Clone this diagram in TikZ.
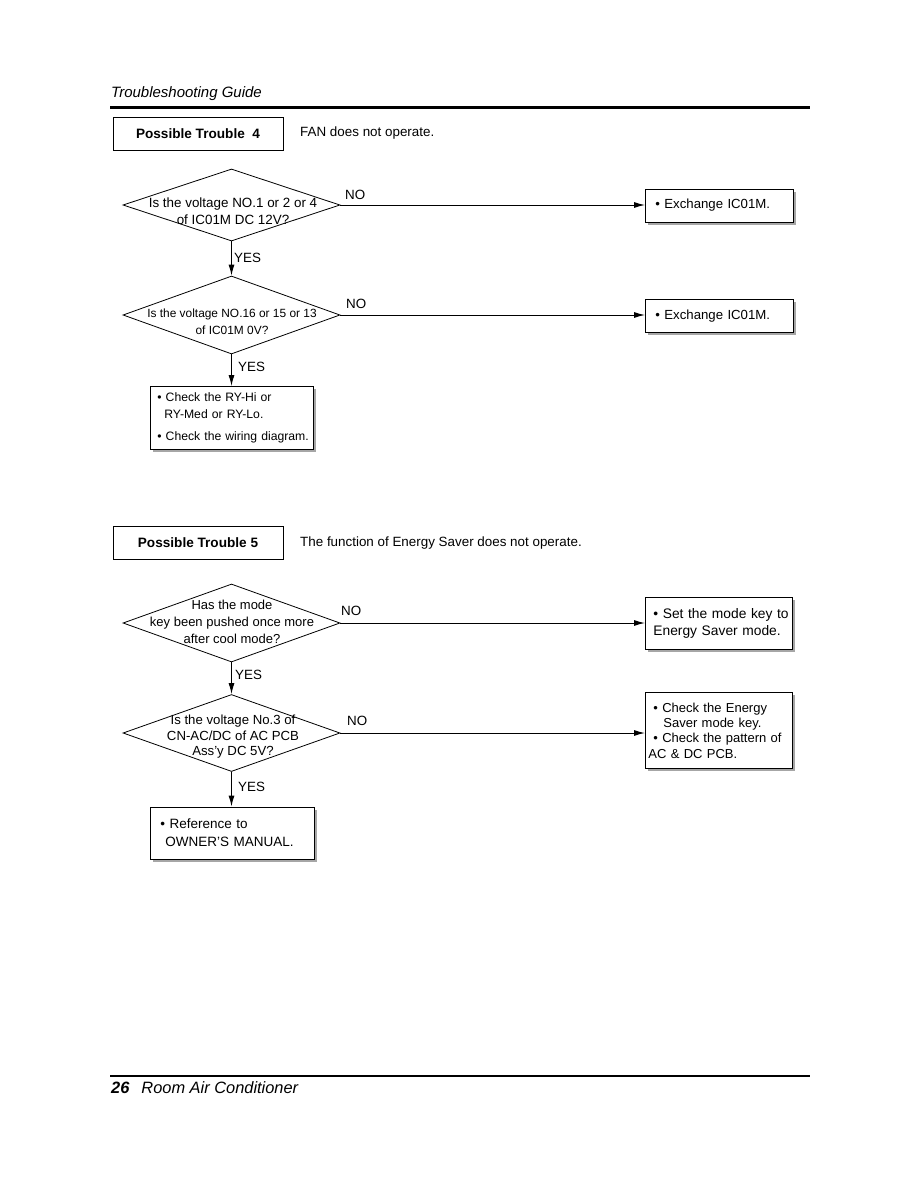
\documentclass[tikz,border=0pt]{standalone}
\usepackage{fontspec}
\setmainfont{Liberation Sans}
\usetikzlibrary{shapes.geometric,arrows.meta,shadows}
\newcommand{\fs}[2]{\fontsize{#1}{#2}\selectfont}
\begin{document}
\begin{tikzpicture}[x=1pt,y=-1pt,
  every node/.style={font=\fs{13.4}{16.5}},
  dia/.style={draw,diamond,minimum width=217pt,inner sep=0pt,line width=0.8pt},
  dtext/.style={align=center,inner sep=0pt},
  tbox/.style={draw,line width=0.8pt,minimum width=170pt,minimum height=33pt,font=\fs{13.6}{16}\bfseries},
  rbox/.style={draw,fill=white,line width=0.8pt,align=left,inner xsep=0pt,anchor=north west,
    drop shadow={shadow xshift=3pt,shadow yshift=-3pt,fill=black!35,opacity=1}},
  arr/.style={line width=1pt,-{Latex[length=11pt,width=6pt]}},
  lbl/.style={inner sep=0pt,anchor=west}
]
\useasboundingbox (0,0) rectangle (918,1188);
\fill[white] (0,0) rectangle (918,1188);

% header
\node[lbl,font=\fs{15}{17}\itshape] (hdr) at (111,94) {Troubleshooting Guide};
\coordinate (hl) at (110,108);
\coordinate (hr) at (810,108);
\draw[line width=3pt] (hl) -- (hr);

% ---------- Possible Trouble 4 ----------
\node[tbox] (pt4) at (198,133.5) {Possible Trouble\ \ 4};
\node[lbl] (pt4t) at (300,133.5) {FAN does not operate.};

\node[dia,minimum height=72pt] (d1) at (231.5,205) {};
\node[dtext] (d1t) at (233,211) {Is the voltage NO.1 or 2 or 4\\of IC01M DC 12V?};

\node[rbox,text width=148pt,minimum height=33pt,font=\fs{13.2}{16}] (e1) at (645,188.5) {\hspace*{10pt}• Exchange IC01M.};
\draw[arr] (d1.east) -- (d1.east -| e1.west);
\node[lbl] (no1) at (345,195) {NO};

\node[dia,minimum height=78pt] (d2) at (231.5,315) {};
\node[dtext,font=\fs{11.9}{17}] (d2t) at (232,322) {Is the voltage NO.16 or 15 or 13\\of IC01M 0V?};
\draw[arr] (d1.south) -- (d2.north);
\node[lbl] (y1) at (234,258) {YES};

\node[rbox,text width=148pt,minimum height=33pt,font=\fs{13.2}{16}] (e2) at (645,299) {\hspace*{10pt}• Exchange IC01M.};
\draw[arr] (d2.east) -- (d2.east -| e2.west);
\node[lbl] (no2) at (346,304) {NO};

\node[rbox,text width=163pt,minimum height=63pt,font=\fs{12.2}{17}] (c1) at (150,386)
  {\hspace*{7pt}• Check the RY-Hi or\\\hspace*{14pt}RY-Med or RY-Lo.\\[5pt]\hspace*{7pt}• Check the wiring diagram.};
\draw[arr] (d2.south) -- (d2.south |- c1.north);
\node[lbl] (y2) at (238,367) {YES};

% ---------- Possible Trouble 5 ----------
\node[tbox] (pt5) at (198,543) {Possible Trouble 5};
\node[lbl] (pt5t) at (300,543.5) {The function of Energy Saver does not operate.};

\node[dia,minimum height=78pt] (d3) at (231.5,623) {};
\node[dtext,font=\fs{13}{17}] (d3t) at (232,622) {Has the mode\\key been pushed once more\\after cool mode?};

\node[rbox,text width=147pt,minimum height=52pt,font=\fs{13.8}{17}] (s1) at (645,597)
  {\hspace*{8pt}• Set the mode key to\\\hspace*{8pt}Energy Saver mode.};
\draw[arr] (d3.east) -- (d3.east -| s1.west);
\node[lbl] (no3) at (341,611) {NO};

\node[dia,minimum height=77pt] (d4) at (231.5,733) {};
\node[dtext,font=\fs{13.2}{15.5}] (d4t) at (233,737) {Is the voltage No.3 of\\CN-AC/DC of AC PCB\\Ass'y DC 5V?};
\draw[arr] (d3.south) -- (d4.north);
\node[lbl] (y3) at (235,675) {YES};

\node[rbox,text width=147pt,minimum height=76pt,font=\fs{13}{15.3}] (s2) at (645,692)
  {\hspace*{8pt}• Check the Energy\\\hspace*{18pt}Saver mode key.\\\hspace*{8pt}• Check the pattern of\\\hspace*{3pt}AC \& DC PCB.};
\draw[arr] (d4.east) -- (d4.east -| s2.west);
\node[lbl] (no4) at (347,721) {NO};

\node[rbox,text width=164pt,minimum height=52pt,font=\fs{13.5}{18}] (r1) at (150,806.5)
  {\hspace*{10pt}• Reference to\\\hspace*{15pt}OWNER'S MANUAL.};
\draw[arr] (d4.south) -- (d4.south |- r1.north);
\node[lbl] (y4) at (238,787) {YES};

% footer
\coordinate (fl) at (110,1076);
\coordinate (fr) at (810,1076);
\draw[line width=2pt] (fl) -- (fr);
\node[lbl,font=\fs{16.4}{18}\itshape] (ftr) at (111,1088)
  {\textbf{26}\hspace{12pt}Room Air Conditioner};
\end{tikzpicture}
\end{document}
